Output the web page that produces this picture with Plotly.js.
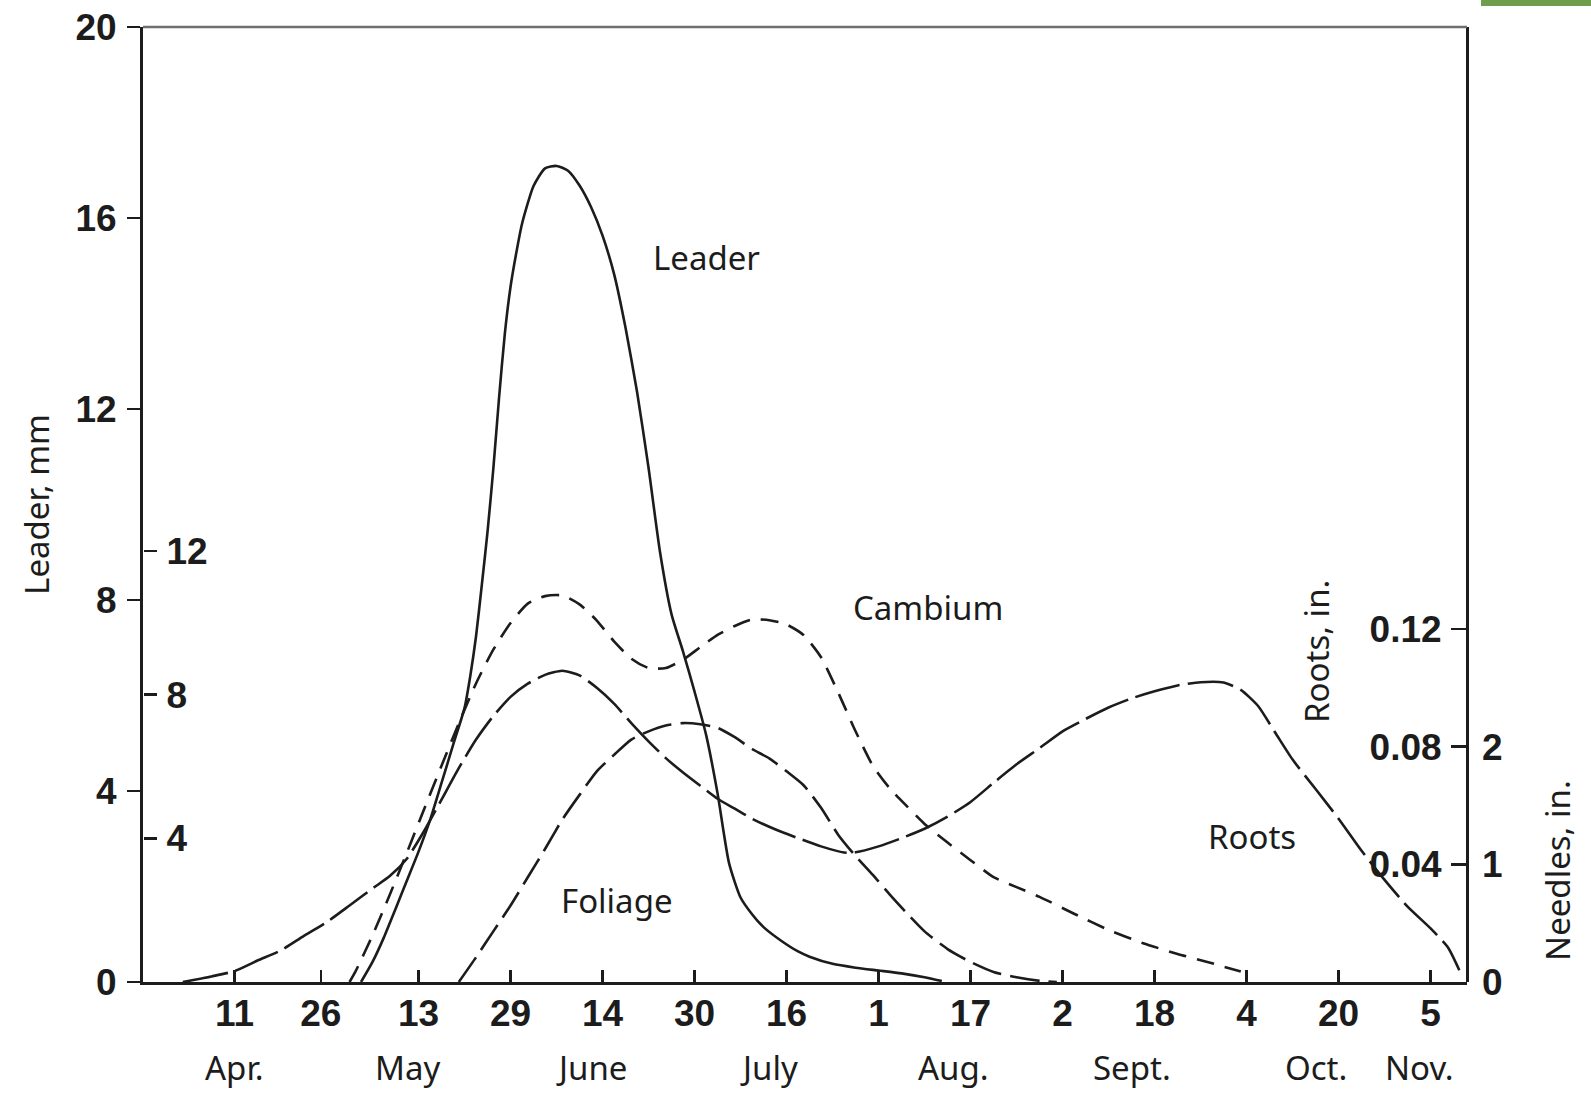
<!DOCTYPE html>
<html>
<head>
<meta charset="utf-8">
<script src="https://cdn.plot.ly/plotly-3.0.1.min.js"></script>
<style>
  html, body { margin: 0; padding: 0; background: #ffffff; }
  #chart { width: 1591px; height: 1094px; }
</style>
</head>
<body>
<div id="chart"></div>
<script>
// ---------- Data ----------
// X tick labels (day of month) and the dates they mark
const tickDates = ['2001-04-11','2001-04-26','2001-05-13','2001-05-29','2001-06-14','2001-06-30','2001-07-16',
                   '2001-08-01','2001-08-17','2001-09-02','2001-09-18','2001-10-04','2001-10-20','2001-11-05'];
const tickDays  = ['11','26','13','29','14','30','16','1','17','2','18','4','20','5'];
const monthNames = ['Apr.','May','June','July','Aug.','Sept.','Oct.','Nov.'];
const monthDates = ['2001-04-11','2001-05-11','2001-06-12','2001-07-13','2001-08-14','2001-09-14','2001-10-16','2001-11-03'];

const leaderTicks  = [0, 4, 8, 12, 16, 20];
const cambiumTicks = [4, 8, 12];
const rootsTicks   = [0.04, 0.08, 0.12];
const rootsTickText = ['0.04', '0.08', '0.12'];
const needlesTicks = [0, 1, 2];

// Leader, mm
const leaderDates = ['2001-05-03','2001-05-05','2001-05-07','2001-05-09','2001-05-11','2001-05-13','2001-05-15','2001-05-17','2001-05-19','2001-05-21',
  '2001-05-22','2001-05-23','2001-05-24','2001-05-25','2001-05-26','2001-05-27','2001-05-28','2001-05-29','2001-05-30','2001-05-31',
  '2001-06-02','2001-06-04','2001-06-06','2001-06-08','2001-06-10','2001-06-12','2001-06-14','2001-06-16','2001-06-18','2001-06-20',
  '2001-06-22','2001-06-24','2001-06-26','2001-06-28','2001-06-30','2001-07-02','2001-07-04','2001-07-06','2001-07-08','2001-07-10',
  '2001-07-12','2001-07-15','2001-07-18','2001-07-20','2001-07-24','2001-07-28','2001-08-01','2001-08-05','2001-08-09','2001-08-12'];
const leaderMm = [0, 0.42, 0.94, 1.53, 2.13, 2.73, 3.39, 4.17, 4.96, 5.74,
  6.41, 7.24, 8.31, 9.43, 10.74, 12.23, 13.57, 14.56, 15.27, 15.88,
  16.67, 17.04, 17.09, 16.99, 16.68, 16.23, 15.63, 14.83, 13.70, 12.36,
  10.77, 9.00, 7.70, 6.92, 6.08, 5.18, 3.95, 2.49, 1.77, 1.42,
  1.15, 0.87, 0.64, 0.53, 0.38, 0.30, 0.24, 0.18, 0.10, 0.02];

// Cambium (inner left scale)
const cambiumDates = ['2001-05-01','2001-05-02','2001-05-05','2001-05-08','2001-05-11','2001-05-14','2001-05-17','2001-05-20','2001-05-23','2001-05-26',
  '2001-05-29','2001-06-01','2001-06-04','2001-06-07','2001-06-10','2001-06-13','2001-06-16','2001-06-19','2001-06-22','2001-06-25',
  '2001-06-28','2001-07-01','2001-07-04','2001-07-07','2001-07-10','2001-07-13','2001-07-16','2001-07-19','2001-07-22','2001-07-25',
  '2001-07-28','2001-07-31','2001-08-03','2001-08-06','2001-08-09','2001-08-13','2001-08-17','2001-08-21','2001-08-25','2001-08-29',
  '2001-09-04','2001-09-10','2001-09-16','2001-09-22','2001-09-28','2001-10-03'];
const cambiumVals = [0, 0.28, 1.30, 2.43, 3.61, 4.82, 6.02, 7.20, 8.31, 9.25,
  9.99, 10.53, 10.74, 10.76, 10.51, 10.06, 9.48, 9.00, 8.74, 8.74,
  8.97, 9.32, 9.66, 9.91, 10.09, 10.07, 9.95, 9.65, 9.04, 8.05,
  6.98, 6.02, 5.38, 4.88, 4.40, 3.88, 3.39, 2.92, 2.64, 2.37,
  1.90, 1.45, 1.08, 0.78, 0.52, 0.29];

// Foliage (Needles, in.)
const foliageDates = ['2001-05-20','2001-05-23','2001-05-26','2001-05-29','2001-06-01','2001-06-04','2001-06-07','2001-06-10','2001-06-13','2001-06-16',
  '2001-06-19','2001-06-22','2001-06-25','2001-06-28','2001-07-01','2001-07-04','2001-07-07','2001-07-10','2001-07-13','2001-07-16',
  '2001-07-19','2001-07-22','2001-07-25','2001-07-28','2001-07-31','2001-08-03','2001-08-06','2001-08-09','2001-08-13','2001-08-17',
  '2001-08-21','2001-08-25','2001-08-29','2001-09-01'];
const needlesIn = [0, 0.21, 0.43, 0.65, 0.89, 1.13, 1.38, 1.59, 1.79, 1.93,
  2.06, 2.13, 2.18, 2.20, 2.19, 2.16, 2.08, 1.98, 1.90, 1.79,
  1.67, 1.48, 1.25, 1.07, 0.91, 0.74, 0.58, 0.43, 0.28, 0.17,
  0.085, 0.04, 0.01, 0];

// Roots, in.
const rootsDates = ['2001-04-02','2001-04-07','2001-04-11','2001-04-15','2001-04-19','2001-04-23','2001-04-27','2001-05-01','2001-05-05','2001-05-08',
  '2001-05-11','2001-05-14','2001-05-17','2001-05-20','2001-05-23','2001-05-26','2001-05-29','2001-06-01','2001-06-04','2001-06-07',
  '2001-06-10','2001-06-13','2001-06-16','2001-06-19','2001-06-22','2001-06-25','2001-06-28','2001-07-01','2001-07-04','2001-07-07',
  '2001-07-10','2001-07-14','2001-07-18','2001-07-22','2001-07-26','2001-07-28','2001-08-01','2001-08-05','2001-08-09','2001-08-13',
  '2001-08-17','2001-08-21','2001-08-25','2001-08-29','2001-09-02','2001-09-06','2001-09-10','2001-09-14','2001-09-18','2001-09-22',
  '2001-09-26','2001-09-30','2001-10-03','2001-10-06','2001-10-09','2001-10-12','2001-10-16','2001-10-20','2001-10-24','2001-10-28',
  '2001-11-01','2001-11-05','2001-11-08','2001-11-10'];
const rootsIn = [0, 0.0019, 0.0037, 0.0073, 0.0107, 0.0156, 0.0203, 0.0260, 0.0318, 0.0360,
  0.0420, 0.0514, 0.0620, 0.0727, 0.0824, 0.0904, 0.0969, 0.1014, 0.1044, 0.1058,
  0.1042, 0.1000, 0.0946, 0.0880, 0.0818, 0.0761, 0.0712, 0.0667, 0.0623, 0.0589,
  0.0555, 0.0519, 0.0489, 0.0461, 0.0440, 0.0441, 0.0461, 0.0489, 0.0521, 0.0562,
  0.0612, 0.0677, 0.0740, 0.0795, 0.0852, 0.0894, 0.0933, 0.0964, 0.0988, 0.1008,
  0.1019, 0.1018, 0.0993, 0.0938, 0.0847, 0.0756, 0.0656, 0.0555, 0.0446, 0.0347,
  0.0256, 0.0182, 0.0118, 0.0040];

// Curve labels
const curveLabels = ['Leader', 'Cambium', 'Foliage', 'Roots'];
const curveLabelDates = ['2001-07-02', '2001-08-09 16:00', '2001-06-16 12:00', '2001-10-05'];
const curveLabelLeaderUnits = [15.18, 7.85, 1.70, 3.04];

// ---------- Styling ----------
const ink = '#1c1c1c';
const numFont = { family: 'Liberation Sans, Arial, sans-serif', size: 37, color: ink, weight: 'bold' };
const textFont = { family: 'Noto Sans, Liberation Sans, sans-serif', size: 33, color: ink };

const traces = [
  { x: leaderDates, y: leaderMm, yaxis: 'y', type: 'scatter', mode: 'lines',
    line: { color: ink, width: 2.6, shape: 'spline', smoothing: 0.6 } },
  { x: cambiumDates, y: cambiumVals, yaxis: 'y2', type: 'scatter', mode: 'lines',
    line: { color: ink, width: 2.6, shape: 'spline', smoothing: 0.6, dash: '18px,11px' } },
  { x: foliageDates, y: needlesIn, yaxis: 'y4', type: 'scatter', mode: 'lines',
    line: { color: ink, width: 2.6, shape: 'spline', smoothing: 0.6, dash: '30px,9px' } },
  { x: rootsDates, y: rootsIn, yaxis: 'y3', type: 'scatter', mode: 'lines',
    line: { color: ink, width: 2.6, shape: 'spline', smoothing: 0.6, dash: '46px,8px' } }
];

const annotations = [];
curveLabels.forEach((t, i) => annotations.push({
  text: t, x: curveLabelDates[i], y: curveLabelLeaderUnits[i], xref: 'x', yref: 'y',
  showarrow: false, font: textFont, xanchor: 'center', yanchor: 'middle'
}));
monthNames.forEach((m, i) => annotations.push({
  text: m, x: monthDates[i], y: -0.09, xref: 'x', yref: 'paper',
  showarrow: false, font: textFont, xanchor: 'center', yanchor: 'middle'
}));
annotations.push({ text: 'Roots, in.', xref: 'paper', yref: 'paper', x: 0.8867, y: 0.3466,
  textangle: -90, showarrow: false, font: textFont, xanchor: 'center', yanchor: 'middle' });
annotations.push({ text: 'Needles, in.', xref: 'paper', yref: 'paper', x: 1.0687, y: 0.1173,
  textangle: -90, showarrow: false, font: textFont, xanchor: 'center', yanchor: 'middle' });

const layout = {
  width: 1591, height: 1094,
  margin: { l: 143, r: 124, t: 27, b: 112 },
  paper_bgcolor: '#ffffff', plot_bgcolor: '#ffffff',
  showlegend: false, hovermode: false,
  xaxis: {
    type: 'date', range: ['2001-03-26 02:00', '2001-11-11 08:00'],
    tickmode: 'array', tickvals: tickDates, ticktext: tickDays,
    ticks: 'inside', ticklen: 12, tickwidth: 2.5, tickcolor: ink,
    showline: true, linecolor: ink, linewidth: 3,
    showgrid: false, zeroline: false, tickfont: numFont, ticklabelstandoff: -3
  },
  yaxis: {
    range: [0, 20], tickmode: 'array', tickvals: leaderTicks,
    ticks: 'outside', ticklen: 13, tickwidth: 2.5, tickcolor: ink,
    showline: true, linecolor: ink, linewidth: 3,
    showgrid: false, zeroline: false, tickfont: numFont, ticklabelstandoff: 3,
    title: { text: 'Leader, mm', font: textFont, standoff: 16 }
  },
  // inner-left scale: axis placed at the left edge, ticks and labels pointing into the plot
  yaxis2: {
    overlaying: 'y', anchor: 'free', position: 0, side: 'right', range: [0, 26.58],
    tickmode: 'array', tickvals: cambiumTicks,
    ticks: 'outside', ticklen: 13, tickwidth: 2.5, tickcolor: ink,
    showline: false, ticklabelstandoff: 2,
    showgrid: false, zeroline: false, tickfont: numFont
  },
  // roots scale: axis line on the right edge, ticks and labels pointing into the plot
  yaxis3: {
    overlaying: 'y', anchor: 'free', position: 1, side: 'left', range: [0, 0.3246],
    tickmode: 'array', tickvals: rootsTicks, ticktext: rootsTickText,
    ticks: 'outside', ticklen: 15, tickwidth: 2.5, tickcolor: ink,
    showline: true, linecolor: ink, linewidth: 3, ticklabelstandoff: 2,
    showgrid: false, zeroline: false, tickfont: numFont
  },
  yaxis4: {
    overlaying: 'y', side: 'right', range: [0, 8.115],
    tickmode: 'array', tickvals: needlesTicks,
    ticks: '', showline: false, showgrid: false, zeroline: false,
    tickfont: numFont, ticklabelstandoff: 14
  },
  annotations: annotations,
  shapes: [
    { type: 'line', xref: 'paper', yref: 'paper', x0: 0, x1: 1, y0: 1, y1: 1,
      line: { color: '#6f6f6f', width: 2.5 } },
    { type: 'rect', xref: 'paper', yref: 'paper', x0: 1.0106, x1: 1.0937, y0: 1.022, y1: 1.0283,
      fillcolor: '#6e9d4e', line: { width: 0 } }
  ]
};

Plotly.newPlot('chart', traces, layout, { displayModeBar: false, staticPlot: true });
</script>
</body>
</html>
